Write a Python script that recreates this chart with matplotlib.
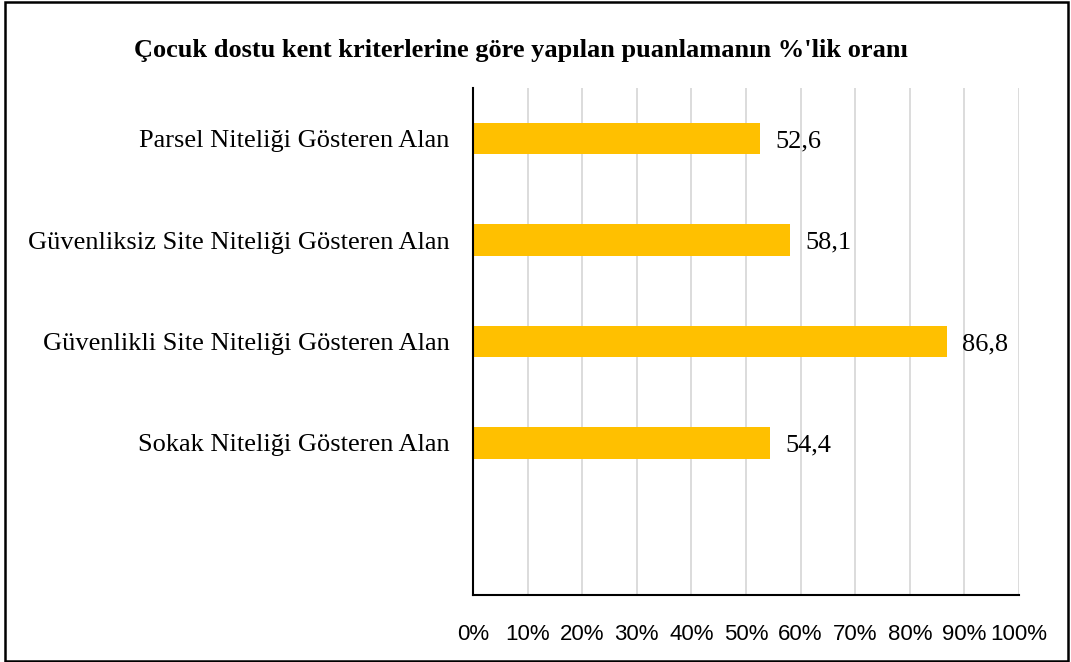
import matplotlib.pyplot as plt
from matplotlib.patches import Rectangle
from matplotlib.ticker import PercentFormatter

# kategoriler yukaridan asagiya, son satir bos
kategoriler = ["Parsel Niteliği Gösteren Alan",
               "Güvenliksiz Site Niteliği Gösteren Alan",
               "Güvenlikli Site Niteliği Gösteren Alan",
               "Sokak Niteliği Gösteren Alan",
               ""]
degerler = [52.6, 58.1, 86.8, 54.4, None]
etiketler = ["52,6", "58,1", "86,8", "54,4", ""]
x_ticks = [0, 10, 20, 30, 40, 50, 60, 70, 80, 90, 100]

serif = ["Liberation Serif", "DejaVu Serif"]
sans = ["Liberation Sans", "DejaVu Sans"]

fig = plt.figure(figsize=(10.71, 6.62), dpi=100)
ax = fig.add_axes([0.4416, 0.1012, 0.5098, 0.7658])

n = len(kategoriler)
ypos = list(range(n - 1, -1, -1))
for y, v, lab in zip(ypos, degerler, etiketler):
    if v is None:
        continue
    ax.barh(y, v, height=0.31, color="#FFC000", zorder=3)
    ax.annotate(lab, (v, y), xytext=(11, 0), textcoords="offset points",
                ha="left", va="center_baseline", fontsize=19, family=serif, color="#000000")

ax.set_xlim(0, 100)
ax.set_ylim(-0.5, n - 0.5)
ax.set_xticks(x_ticks)
ax.xaxis.set_major_formatter(PercentFormatter(decimals=0))
ax.set_yticks(ypos)
ax.set_yticklabels(kategoriler, family=serif, fontsize=19)
for t in ax.get_xticklabels():
    t.set_family(sans)
    t.set_fontsize(16)
ax.tick_params(axis="x", length=0, pad=21)
ax.tick_params(axis="y", length=0, pad=17)

ax.grid(axis="x", color="#d9d9d9", linewidth=1.3, zorder=0)
ax.set_axisbelow(True)
for s in ["top", "right"]:
    ax.spines[s].set_visible(False)
ax.spines["left"].set_color("#000000")
ax.spines["left"].set_linewidth(1.5)
ax.spines["left"].set_zorder(4)
ax.spines["bottom"].set_color("#000000")
ax.spines["bottom"].set_linewidth(1.5)

fig.text(0.4865, 0.924, "Çocuk dostu kent kriterlerine göre yapılan puanlamanın %'lik oranı",
         ha="center", va="center", fontsize=19, fontweight="bold", family=serif)

# dis cerceve
fig.patches.append(Rectangle((5 / 1071, 1 / 662), 1063 / 1071, 659 / 662,
                             transform=fig.transFigure, fill=False,
                             edgecolor="#000000", linewidth=1.8))

fig.savefig("out.png", dpi=100)
